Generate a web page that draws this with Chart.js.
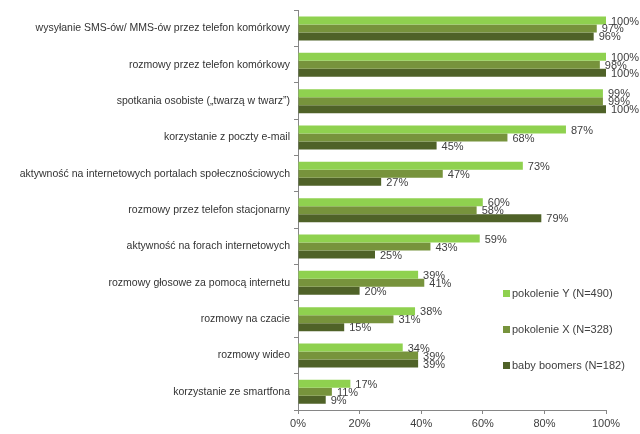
<!DOCTYPE html>
<html>
<head>
<meta charset="utf-8">
<script src="https://cdn.jsdelivr.net/npm/chart.js@4"></script>
<style>
  body { margin: 0; background: #fff; }
  #wrap { width: 640px; height: 434px; }
</style>
</head>
<body>
<div id="wrap"><canvas id="myChart" width="640" height="434"></canvas></div>
<script>
// kategorie (oś Y)
var kategorie = [
  'wysyłanie SMS-ów/ MMS-ów przez telefon komórkowy',
  'rozmowy przez telefon komórkowy',
  'spotkania osobiste („twarzą w twarz”)',
  'korzystanie z poczty e-mail',
  'aktywność na internetowych portalach społecznościowych',
  'rozmowy przez telefon stacjonarny',
  'aktywność na forach internetowych',
  'rozmowy głosowe za pomocą internetu',
  'rozmowy na czacie',
  'rozmowy wideo',
  'korzystanie ze smartfona'
];
// wartości w %
var pokolenieY = [100, 100, 99, 87, 73, 60, 59, 39, 38, 34, 17];
var pokolenieX = [97, 98, 99, 68, 47, 58, 43, 41, 31, 39, 11];
var babyBoomers = [96, 100, 100, 45, 27, 79, 25, 20, 15, 39, 9];
var nazwySerii = ['pokolenie Y (N=490)', 'pokolenie X (N=328)', 'baby boomers (N=182)'];
var kolory = ['#8fd14f', '#77933c', '#4f6228'];
var osX = [0, 20, 40, 60, 80, 100];

var czcionka = '"Liberation Sans", Arial, sans-serif';

// etykiety wartości przy końcach słupków
var etykiety = {
  id: 'etykiety',
  afterDatasetsDraw: function(chart) {
    var ctx = chart.ctx;
    ctx.save();
    ctx.font = '11px ' + czcionka;
    ctx.fillStyle = '#404040';
    ctx.textAlign = 'left';
    ctx.textBaseline = 'middle';
    chart.data.datasets.forEach(function(ds, i) {
      var meta = chart.getDatasetMeta(i);
      meta.data.forEach(function(bar, j) {
        ctx.fillText(ds.data[j] + '%', bar.x + 5, bar.y + 1);
      });
    });
    ctx.restore();
  }
};

// legenda wewnątrz wykresu (jak w Excelu)
var legenda = {
  id: 'legenda',
  afterDraw: function(chart) {
    var ctx = chart.ctx;
    var ys = [294, 330, 366];
    ctx.save();
    ctx.font = '11px ' + czcionka;
    ctx.textBaseline = 'middle';
    ctx.textAlign = 'left';
    nazwySerii.forEach(function(n, i) {
      ctx.fillStyle = kolory[i];
      ctx.fillRect(503, ys[i] - 4, 7, 7);
      ctx.fillStyle = '#404040';
      ctx.fillText(n, 512, ys[i]);
    });
    ctx.restore();
  }
};

var ctx = document.getElementById('myChart');
var data = {
  labels: kategorie,
  datasets: [
    { label: nazwySerii[0], data: pokolenieY, backgroundColor: kolory[0] },
    { label: nazwySerii[1], data: pokolenieX, backgroundColor: kolory[1] },
    { label: nazwySerii[2], data: babyBoomers, backgroundColor: kolory[2] }
  ]
};

var options = {
  indexAxis: 'y',
  responsive: false,
  animation: false,
  layout: { padding: { top: 7, right: 34, bottom: 0, left: 0 } },
  datasets: { bar: { categoryPercentage: 0.66, barPercentage: 1.0 } },
  plugins: {
    legend: { display: false },
    tooltip: { enabled: false }
  },
  scales: {
    x: {
      min: 0,
      max: 100,
      afterBuildTicks: function(scale) {
        scale.ticks = osX.map(function(v) { return { value: v }; });
      },
      ticks: {
        callback: function(v) { return v + '%'; },
        font: { family: czcionka, size: 11 },
        color: '#404040',
        padding: 3,
        maxRotation: 0
      },
      grid: { drawOnChartArea: false, drawTicks: true, tickLength: 4, color: '#868686' },
      border: { color: '#868686' },
      afterFit: function(scale) { scale.height = 24; }
    },
    y: {
      ticks: {
        font: { family: czcionka, size: 10.5 },
        color: '#333333',
        padding: 4,
        autoSkip: false
      },
      grid: { drawOnChartArea: false, drawTicks: true, tickLength: 4, color: '#868686', offset: true },
      border: { color: '#868686' },
      afterFit: function(scale) { scale.width = 298; }
    }
  }
};

var mychart = new Chart(ctx, {
  type: 'bar',
  data: data,
  options: options,
  plugins: [etykiety, legenda]
});
</script>
</body>
</html>
